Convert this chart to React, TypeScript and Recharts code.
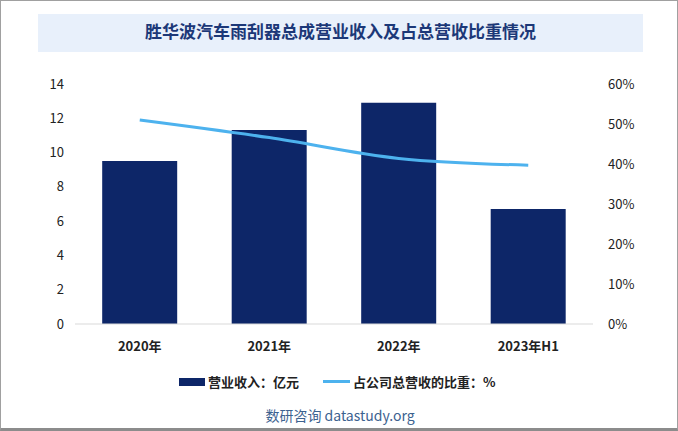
import React from 'react';
import { ComposedChart, Bar, Line, XAxis, YAxis } from 'recharts';

const years = ['2020年', '2021年', '2022年', '2023年H1'];
const revenue = [9.51, 11.32, 12.9, 6.71];
const share = [51, 46.6, 41.4, 39.7];
const leftTicks = [0, 2, 4, 6, 8, 10, 12, 14];
const rightTicks = [0, 10, 20, 30, 40, 50, 60];

const chartData = years.map((year, i) => ({ year, revenue: revenue[i], share: share[i] }));

const font = '"Noto Sans CJK SC", "Noto Sans", sans-serif';

const App: React.FC = () => {
  return (
    <div
      style={{
        position: 'absolute',
        left: 0,
        top: 0,
        width: 678,
        height: 431,
        boxSizing: 'border-box',
        border: '1px solid #a0a0a0',
        borderBottom: '3px solid #8c8c8c',
        background: '#fff',
        fontFamily: font,
      }}
    >
      {/* Title */}
      <div
        style={{
          position: 'absolute',
          left: 37,
          top: 13,
          width: 605,
          height: 38,
          background: '#E8F0FB',
          color: '#1C3878',
          fontFamily: 'serif, "Noto Sans CJK SC"',
          fontWeight: 'bold',
          fontSize: 17,
          lineHeight: '38px',
          textAlign: 'center',
        }}
      >
        胜华波汽车雨刮器总成营业收入及占总营收比重情况
      </div>

      {/* Chart */}
      <div style={{ position: 'absolute', left: -1, top: -1 }}>
        <ComposedChart
          width={678}
          height={362}
          data={chartData}
          margin={{ top: 84, right: 40, left: 40, bottom: 8 }}
          barCategoryGap="21%"
        >
          <XAxis
            dataKey="year"
            axisLine={{ stroke: '#D9D9D9' }}
            tickLine={false}
            height={30}
            tick={{ fill: '#222', fontSize: 13, fontWeight: 'bold', fontFamily: font }}
            tickMargin={12}
          />
          <YAxis
            yAxisId="left"
            domain={[0, 14]}
            ticks={leftTicks}
            width={35}
            axisLine={false}
            tickLine={false}
            tickMargin={5}
            tick={{ fill: '#222', fontSize: 13, fontFamily: font }}
          />
          <YAxis
            yAxisId="right"
            orientation="right"
            domain={[0, 60]}
            ticks={rightTicks}
            width={45}
            axisLine={false}
            tickLine={false}
            tickMargin={9}
            tickFormatter={(v: number) => `${v}%`}
            tick={{ fill: '#222', fontSize: 13, fontFamily: font }}
          />
          <Bar yAxisId="left" dataKey="revenue" fill="#0D2668" isAnimationActive={false} />
          <Line
            yAxisId="right"
            dataKey="share"
            type="monotone"
            stroke="#4DB2EE"
            strokeWidth={3}
            dot={false}
            isAnimationActive={false}
          />
        </ComposedChart>
      </div>

      {/* Legend */}
      <div
        style={{
          position: 'absolute',
          top: 371,
          left: 178,
          display: 'flex',
          alignItems: 'center',
          fontSize: 13,
          fontWeight: 'bold',
          color: '#222',
          whiteSpace: 'nowrap',
        }}
      >
        <div style={{ display: 'flex', alignItems: 'center' }}>
          <div style={{ width: 26, height: 8, background: '#0D2668', marginRight: 3 }}></div>
          <span>营业收入：亿元</span>
        </div>
        <div style={{ display: 'flex', alignItems: 'center', marginLeft: 24 }}>
          <div style={{ width: 27, height: 3, background: '#4DB2EE', marginRight: 3 }}></div>
          <span>占公司总营收的比重：%</span>
        </div>
      </div>

      {/* Footer */}
      <div
        style={{
          position: 'absolute',
          top: 404,
          left: 0,
          width: 678,
          textAlign: 'center',
          fontSize: 14,
          color: '#3C6290',
        }}
      >
        数研咨询 datastudy.org
      </div>
    </div>
  );
};

export default App;
